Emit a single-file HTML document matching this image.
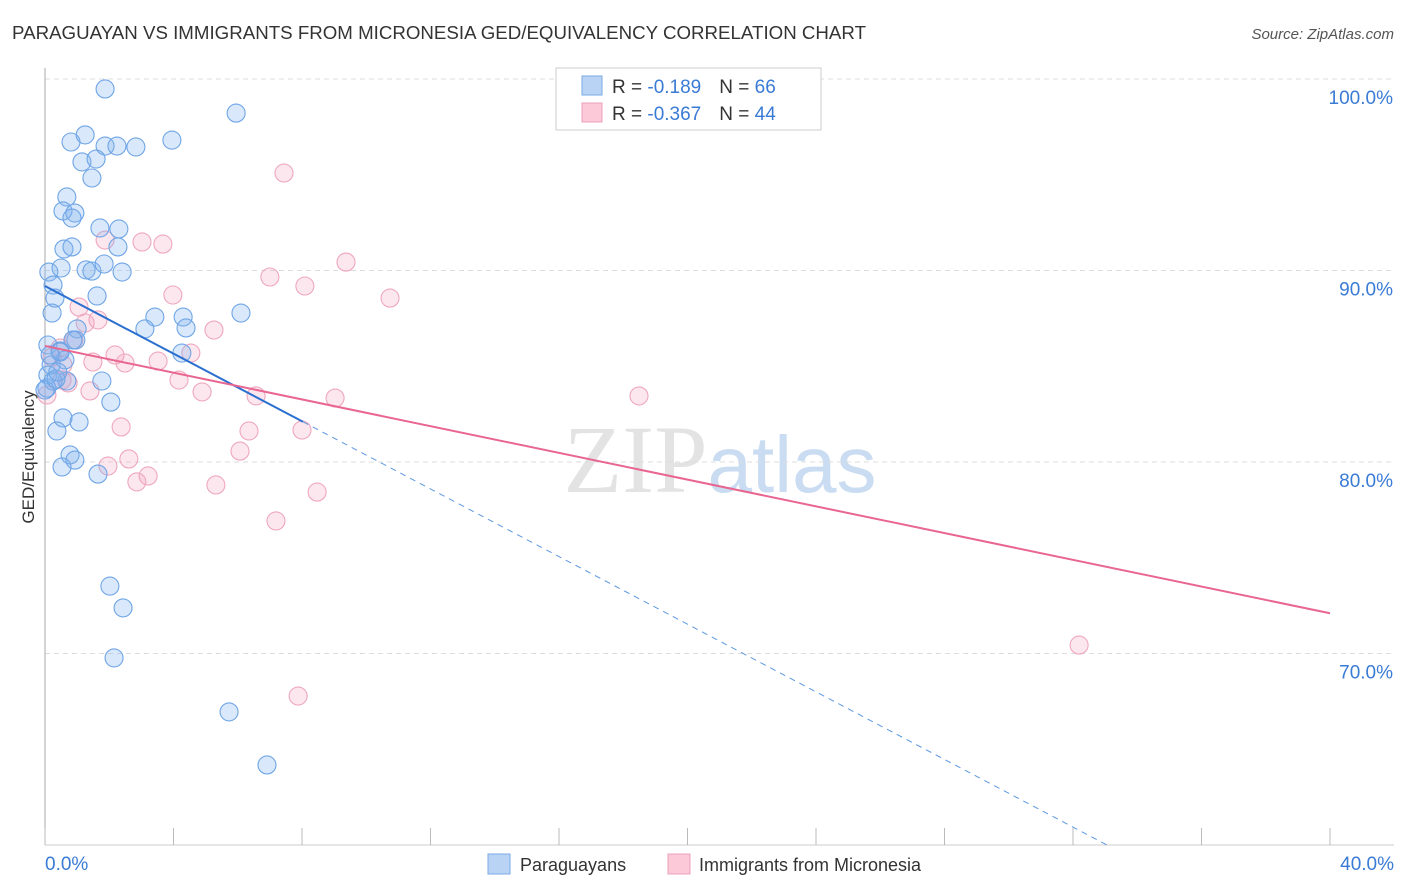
<!DOCTYPE html>
<html><head><meta charset="utf-8"><style>
body{margin:0;background:#fff;font-family:"Liberation Sans",sans-serif;}
</style></head><body>
<svg id="chart" width="1406" height="892" xmlns="http://www.w3.org/2000/svg" style="display:block">
<text x="12" y="39" font-size="18" fill="#333" textLength="854" lengthAdjust="spacingAndGlyphs">PARAGUAYAN VS IMMIGRANTS FROM MICRONESIA GED/EQUIVALENCY CORRELATION CHART</text>
<text x="1394" y="39" font-size="15" fill="#555" text-anchor="end" font-style="italic">Source: ZipAtlas.com</text>
<text x="720" y="492" font-size="96" text-anchor="middle" font-family="Liberation Serif" fill="#ddd" opacity="0.8">ZIP<tspan fill="#bcd4ee" font-family="Liberation Sans" font-size="80">atlas</tspan></text>
<g id="grid"></g><g id="marks"></g><g id="lines"></g>
<text transform="translate(34,457) rotate(-90)" font-size="17" fill="#333" text-anchor="middle">GED/Equivalency</text>
<g>
<rect x="556" y="68" width="265" height="62" fill="#fff" stroke="#ccc"/>
<rect x="582" y="76" width="20" height="19" fill="#b9d3f5" stroke="#7aaae6"/>
<rect x="582" y="103" width="20" height="19" fill="#fbc9d8" stroke="#eda0b8"/>
<text x="612" y="93" font-size="19" fill="#333">R = <tspan fill="#3a7bd5"> -0.189</tspan><tspan dx="18">N = </tspan><tspan fill="#3a7bd5">66</tspan></text>
<text x="612" y="120" font-size="19" fill="#333">R = <tspan fill="#3a7bd5">-0.367</tspan><tspan dx="18">N = </tspan><tspan fill="#3a7bd5">44</tspan></text>
</g>
<g>
<rect x="488" y="854" width="22" height="20" fill="#b9d3f5" stroke="#7aaae6"/>
<text x="520" y="871" font-size="18" fill="#333">Paraguayans</text>
<rect x="668" y="854" width="22" height="20" fill="#fbc9d8" stroke="#eda0b8"/>
<text x="699" y="871" font-size="18" fill="#333">Immigrants from Micronesia</text>
</g>
</svg>
<script>
const blueX=[1.87,5.95,0.81,1.25,3.95,1.87,2.24,2.83,1.15,1.59,1.46,0.68,0.56,0.93,0.84,1.71,2.30,0.59,0.84,2.27,0.12,0.50,1.28,1.46,1.84,2.40,0.25,0.31,1.62,0.22,3.42,4.30,6.10,1.00,3.11,4.39,0.96,0.09,0.47,4.26,0.19,0.62,0.09,0.68,1.77,0.06,2.05,0.56,1.06,0.37,0.78,0.93,0.53,1.65,2.02,2.43,2.15,5.73,6.91,0.25,0.00,0.34,0.47,0.16,0.87,0.40];
const blueY=[99.48,98.22,96.71,97.08,96.81,96.50,96.50,96.45,95.67,95.82,94.83,93.84,93.11,93.00,92.74,92.22,92.17,91.12,91.23,91.23,89.92,90.13,90.03,89.97,90.34,89.92,89.24,88.56,88.67,87.78,87.57,87.57,87.78,86.95,86.95,87.00,86.37,86.11,85.80,85.69,85.07,85.33,84.54,84.23,84.23,83.86,83.13,82.30,82.09,81.62,80.37,80.10,79.74,79.37,73.52,72.38,69.77,66.95,64.18,84.23,83.76,84.33,85.74,85.59,86.37,84.70];
const pinkX=[7.44,1.87,3.02,3.67,9.37,7.00,8.09,10.74,3.98,1.06,1.65,1.25,5.26,0.90,0.47,2.18,2.49,3.52,4.54,1.49,0.22,0.56,4.17,4.89,1.40,6.57,9.03,18.49,0.72,2.37,6.35,8.00,2.61,6.07,1.96,3.21,2.86,5.32,8.47,7.19,32.19,7.88,0.06,0.53];
const pinkY=[95.09,91.59,91.49,91.38,90.44,89.66,89.19,88.56,88.72,88.09,87.42,87.26,86.89,86.37,85.95,85.59,85.17,85.27,85.69,85.22,85.48,85.07,84.28,83.66,83.71,83.45,83.34,83.45,84.13,81.83,81.62,81.67,80.16,80.57,79.79,79.27,78.96,78.80,78.43,76.92,70.44,67.78,83.50,84.28];
const yTicks=[100,90,80,70];
const yTickLabels=["100.0%","90.0%","80.0%","70.0%"];
const xTicks=[0,4,8,12,16,20,24,28,32,36,40];
const blueTrend=[89.19,-0.883,8.03];
const pinkTrend=[86.06,-0.349];
const NS="http://www.w3.org/2000/svg";
const sx=v=>45+v*32.125, sy=v=>79+(100-v)*19.15;
function mk(t,a,p){const e=document.createElementNS(NS,t);for(const k in a)e.setAttribute(k,a[k]);p.appendChild(e);return e;}
const g=document.getElementById('grid');
yTicks.forEach((t,i)=>{
 const l=mk('line',{x1:45,x2:1394,y1:sy(t),y2:sy(t),stroke:'#ddd','stroke-dasharray':'5,4'},g);
 
 
 const tx=mk('text',{x:1393,y:sy(t)+25,'font-size':19,fill:'#3a7bd5','text-anchor':'end'},g);
 tx.textContent=yTickLabels[i];
 
 
});
const ax=mk('line',{x1:45,x2:45,y1:68,y2:845,stroke:'#aaa'},g);


const bx=mk('line',{x1:45,x2:1394,y1:845,y2:845,stroke:'#ccc'},g);


xTicks.forEach(t=>{
 const l=mk('line',{x1:sx(t),x2:sx(t),y1:828,y2:845,stroke:'#bbb'},g);
 
 
});
const xl0=mk('text',{x:45,y:870,'font-size':19,fill:'#3a7bd5'},g);xl0.textContent='0.0%';


const xl1=mk('text',{x:1394,y:870,'font-size':19,fill:'#3a7bd5','text-anchor':'end'},g);xl1.textContent='40.0%';


const m=document.getElementById('marks');
pinkX.forEach((x,i)=>{
 const c=mk('circle',{cx:sx(x),cy:sy(pinkY[i]),r:9,fill:'rgba(244,160,188,0.25)',stroke:'#efa7be','stroke-width':1.1},m);
 
 
});
blueX.forEach((x,i)=>{
 const c=mk('circle',{cx:sx(x),cy:sy(blueY[i]),r:9,fill:'rgba(130,180,240,0.3)',stroke:'#6fa5e6','stroke-width':1.1},m);
 
 
});
const L=document.getElementById('lines');
const bEnd=(60-blueTrend[0])/blueTrend[1];
const d=mk('line',{x1:sx(blueTrend[2]),y1:sy(blueTrend[0]+blueTrend[1]*blueTrend[2]),x2:sx(bEnd),y2:sy(60),stroke:'#5c98e0','stroke-dasharray':'6,5','stroke-width':1},L);


const b=mk('line',{x1:sx(0),y1:sy(blueTrend[0]),x2:sx(blueTrend[2]),y2:sy(blueTrend[0]+blueTrend[1]*blueTrend[2]),stroke:'#2a6fd0','stroke-width':2},L);


const p=mk('line',{x1:sx(0),y1:sy(pinkTrend[0]),x2:sx(40),y2:sy(pinkTrend[0]+pinkTrend[1]*40),stroke:'#e8668f','stroke-width':2},L);


</script>
</body></html>
